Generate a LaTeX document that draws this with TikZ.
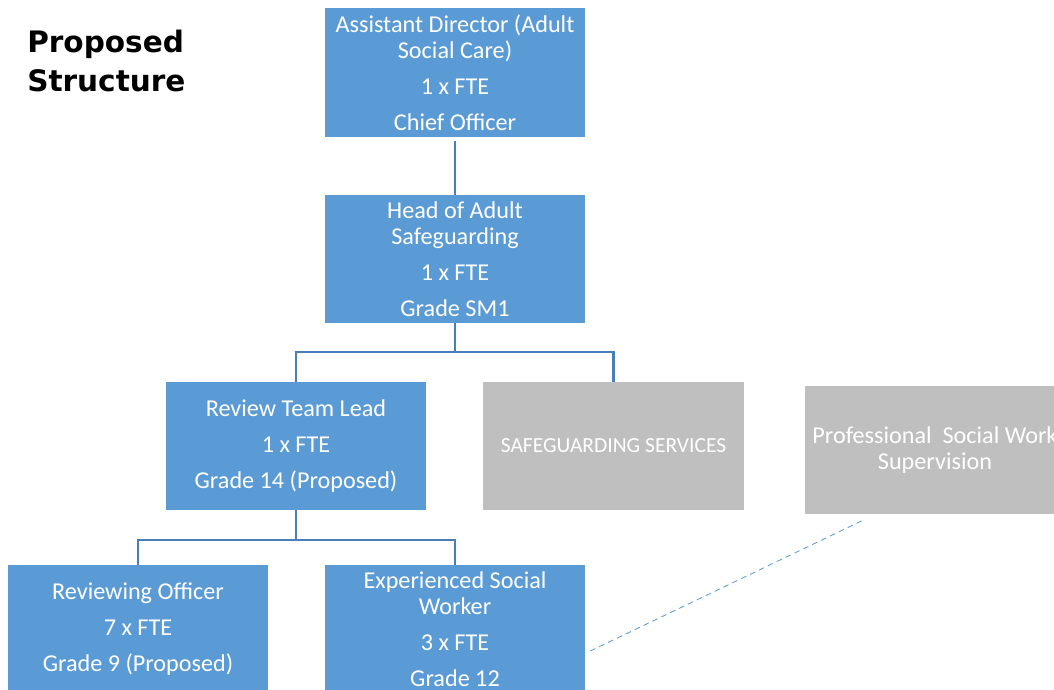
\documentclass[tikz,border=0pt]{standalone}
\usepackage{fontspec}
\setmainfont{Carlito}
\newfontfamily\titlefont{DejaVu Sans}
\usetikzlibrary{calc}

\definecolor{boxblue}{HTML}{5B9BD5}
\definecolor{boxgrey}{HTML}{BFBFBF}
\definecolor{lineblue}{HTML}{4A7EBB}

\begin{document}
\begin{tikzpicture}[
    x=0.025cm, y=-0.025cm,
    post/.style={rectangle, fill=boxblue, text=white, minimum width=6.5cm, minimum height=3.2cm,
                 inner sep=0pt, align=center, font=\fontsize{17.2pt}{18.5pt}\selectfont},
    service/.style={post, fill=boxgrey},
    conn/.style={draw=lineblue, line width=2.1pt},
    dashline/.style={draw=boxblue, line width=0.6pt, dash pattern=on 4pt off 3pt},
]
\useasboundingbox (0,0) rectangle (1054,690);
\clip (0,0) rectangle (1054,690);

% ==================== TITLE ====================
\node[anchor=north west, align=left, inner sep=0pt,
      font=\titlefont\bfseries\fontsize{21pt}{27.5pt}\selectfont] (title) at (27,30) {Proposed\\Structure};

% ==================== TOP LEVELS ====================
\node[post] (director) at (455,72.5) {Assistant Director (Adult\\Social Care)\\[7pt]1 x FTE\\[7pt]Chief Officer};
\node[post] (head) at (455,259) {Head of Adult\\Safeguarding\\[7pt]1 x FTE\\[7pt]Grade SM1};

\draw[conn, shorten <=3pt] (director) -- (head);

% ==================== MIDDLE ROW ====================
\node[post] (review) at (296,446) {Review Team Lead\\[7pt]1 x FTE\\[7pt]Grade 14 (Proposed)};
\node[service, font=\fontsize{15.3pt}{18pt}\selectfont] (safeguarding) at (613.5,446) {SAFEGUARDING SERVICES};
\node[service] (supervision) at (935,450) {Professional\ \ Social Work\\Supervision};

\coordinate (bus1) at (455,352);
\draw[conn] (head.south) -- (bus1) -| (review.north);
\draw[conn] (bus1) -| (safeguarding.north);

% ==================== BOTTOM ROW ====================
\node[post] (reviewing) at (138,629) {Reviewing Officer\\[7pt]7 x FTE\\[7pt]Grade 9 (Proposed)};
\node[post] (socialworker) at (455,629) {Experienced Social\\Worker\\[7pt]3 x FTE\\[7pt]Grade 12};

\coordinate (bus2) at (296,540);
\draw[conn] (review.south) -- (bus2) -| (reviewing.north);
\draw[conn] (bus2) -| (socialworker.north);

% dotted supervision link
\draw[dashline] ($(socialworker.east)+(5,22)$) -- ($(supervision.south)+(-70,5)$);

\end{tikzpicture}
\end{document}
